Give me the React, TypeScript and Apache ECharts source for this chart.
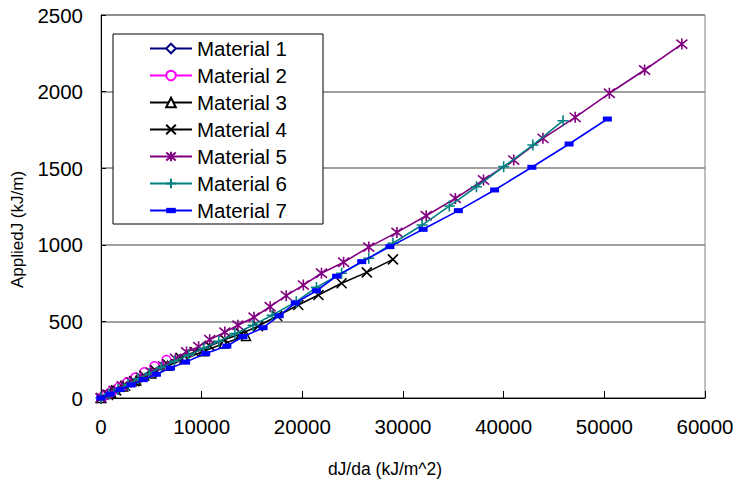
import React, { useEffect, useRef } from "react";
import * as echarts from "echarts";

const seriesNames = ["Material 1", "Material 2", "Material 3", "Material 4", "Material 5", "Material 6", "Material 7"];

const m1: number[][] = [[0, 0], [300, 10], [700, 25], [1200, 40], [1700, 58], [2300, 78]];
const m2: number[][] = [[0, 0], [500, 20], [1100, 45], [1800, 72], [2600, 102], [3400, 133], [4300, 168], [5300, 207], [6500, 248]];
const m3: number[][] = [[0, 0], [1000, 35], [2200, 75], [3500, 115], [5000, 160], [6600, 210], [8300, 255], [10200, 305], [12200, 355], [14400, 405]];
const m4: number[][] = [[0, 0], [700, 20], [1500, 50], [2400, 80], [3300, 110], [4300, 145], [5400, 180], [6600, 220], [7900, 262], [9300, 300], [10800, 340], [12300, 382], [13900, 420], [15600, 468], [17500, 535], [19600, 607], [21600, 672], [23900, 749], [26400, 820], [29000, 905]];
const m5: number[][] = [[0, 0], [600, 25], [1300, 50], [2100, 78], [3000, 105], [4000, 135], [5000, 168], [6200, 210], [7400, 258], [8500, 300], [9700, 335], [10800, 380], [12300, 430], [13600, 475], [15200, 527], [16800, 596], [18400, 668], [20100, 737], [21900, 814], [24100, 886], [26600, 985], [29400, 1081], [32300, 1190], [35200, 1303], [38000, 1423], [41000, 1553], [43900, 1695], [47100, 1832], [50500, 1989], [54000, 2141], [57700, 2310]];
const m6: number[][] = [[0, 0], [800, 25], [1700, 55], [2700, 90], [3700, 125], [4800, 160], [6000, 200], [7300, 240], [8700, 280], [10200, 325], [11700, 370], [13300, 420], [15100, 475], [17000, 540], [19400, 629], [21400, 722], [23900, 814], [26600, 912], [29000, 1010], [31900, 1129], [34600, 1253], [37300, 1379], [40000, 1510], [42900, 1651], [45900, 1810]];
const m7: number[][] = [[0, 0], [900, 25], [1900, 55], [3000, 85], [4200, 120], [5500, 155], [6900, 195], [8400, 235], [10400, 290], [12500, 339], [14100, 400], [16100, 459], [17700, 537], [19300, 620], [21400, 700], [23400, 795], [25900, 890], [28700, 988], [32000, 1101], [35500, 1223], [39100, 1358], [42800, 1506], [46500, 1658], [50300, 1821]];

const seriesData = [m1, m2, m3, m4, m5, m6, m7];
const colors = ["#000080", "#FF00FF", "#000000", "#000000", "#800080", "#008080", "#0000FF"];

const xTicks = { min: 0, max: 60000, interval: 10000 };
const yTicks = { min: 0, max: 2500, interval: 500 };

const FONT = "'Liberation Sans', Arial, sans-serif";

const symbols: any[] = [
  { symbol: "diamond", size: [8, 10], hollow: true },
  { symbol: "circle", size: 9, hollow: true },
  { symbol: "triangle", size: 9, hollow: true },
  { symbol: "path://M0 0L10 10M10 0L0 10", size: 10, hollow: false },
  { symbol: "path://M0 0L10 10M10 0L0 10M5 -1L5 11", size: 11, hollow: false },
  { symbol: "path://M5 0L5 10M0 5L10 5", size: 11, hollow: false },
  { symbol: "path://M0 -4L0 -4M0 0L18 0L18 10L0 10ZM0 14L0 14", size: 9, hollow: false, filled: true },
];

export default function App() {
  const ref = useRef<HTMLDivElement>(null);
  useEffect(() => {
    if (!ref.current) return;
    const chart = echarts.init(ref.current, undefined, { renderer: "svg" });
    const series = seriesNames.map((name, i) => {
      const s = symbols[i];
      const c = colors[i];
      let itemStyle: any;
      if (s.hollow) itemStyle = { color: "#ffffff", borderColor: c, borderWidth: 1.5 };
      else if (s.filled) itemStyle = { color: c, borderWidth: 0 };
      else itemStyle = { color: c, borderColor: c, borderWidth: 1.6 };
      return {
        name,
        type: "line",
        data: seriesData[i],
        symbol: s.symbol,
        symbolSize: s.size,
        showAllSymbol: true,
        lineStyle: { color: c, width: 1.6 },
        itemStyle,
        z: 2 + i,
      };
    });
    const noComma = (v: number) => String(v);
    chart.setOption({
      animation: false,
      backgroundColor: "#ffffff",
      textStyle: { fontFamily: FONT },
      grid: { left: 101, right: 33, top: 15, bottom: 91, show: true, borderColor: "#808080", borderWidth: 1 },
      legend: {
        orient: "vertical",
        left: 113,
        top: 34,
        backgroundColor: "#ffffff",
        borderColor: "#000000",
        borderWidth: 1,
        padding: [4, 36, 3, 36],
        itemWidth: 42,
        itemHeight: 12,
        itemGap: 6,
        textStyle: { fontFamily: FONT, fontSize: 20.5, color: "#000" },
        data: seriesNames,
      },
      xAxis: {
        type: "value",
        min: xTicks.min,
        max: xTicks.max,
        interval: xTicks.interval,
        name: "dJ/da (kJ/m^2)",
        nameLocation: "middle",
        nameGap: 62,
        nameTextStyle: { fontFamily: FONT, fontSize: 17.5, color: "#000", padding: [0, 36, 0, 0] },
        axisLine: { show: true, lineStyle: { color: "#000", width: 1 } },
        axisTick: { show: true, inside: true, length: 7, lineStyle: { color: "#000" } },
        axisLabel: { fontFamily: FONT, fontSize: 20.5, color: "#000", margin: 18, formatter: noComma },
        splitLine: { show: false },
      },
      yAxis: {
        type: "value",
        min: yTicks.min,
        max: yTicks.max,
        interval: yTicks.interval,
        name: "AppliedJ (kJ/m)",
        nameLocation: "middle",
        nameGap: 69,
        nameTextStyle: { fontFamily: FONT, fontSize: 17, color: "#000", padding: [0, 46, 0, 0] },
        axisLine: { show: true, lineStyle: { color: "#000", width: 1 } },
        axisTick: { show: true, inside: true, length: 5, lineStyle: { color: "#000" } },
        axisLabel: { fontFamily: FONT, fontSize: 20.5, color: "#000", margin: 18, formatter: noComma },
        splitLine: { show: true, lineStyle: { color: "#808080", width: 1.5 } },
      },
      series,
    });
    return () => chart.dispose();
  }, []);
  return <div ref={ref} style={{ width: 738, height: 489, position: "absolute", left: 0, top: 0 }} />;
}
